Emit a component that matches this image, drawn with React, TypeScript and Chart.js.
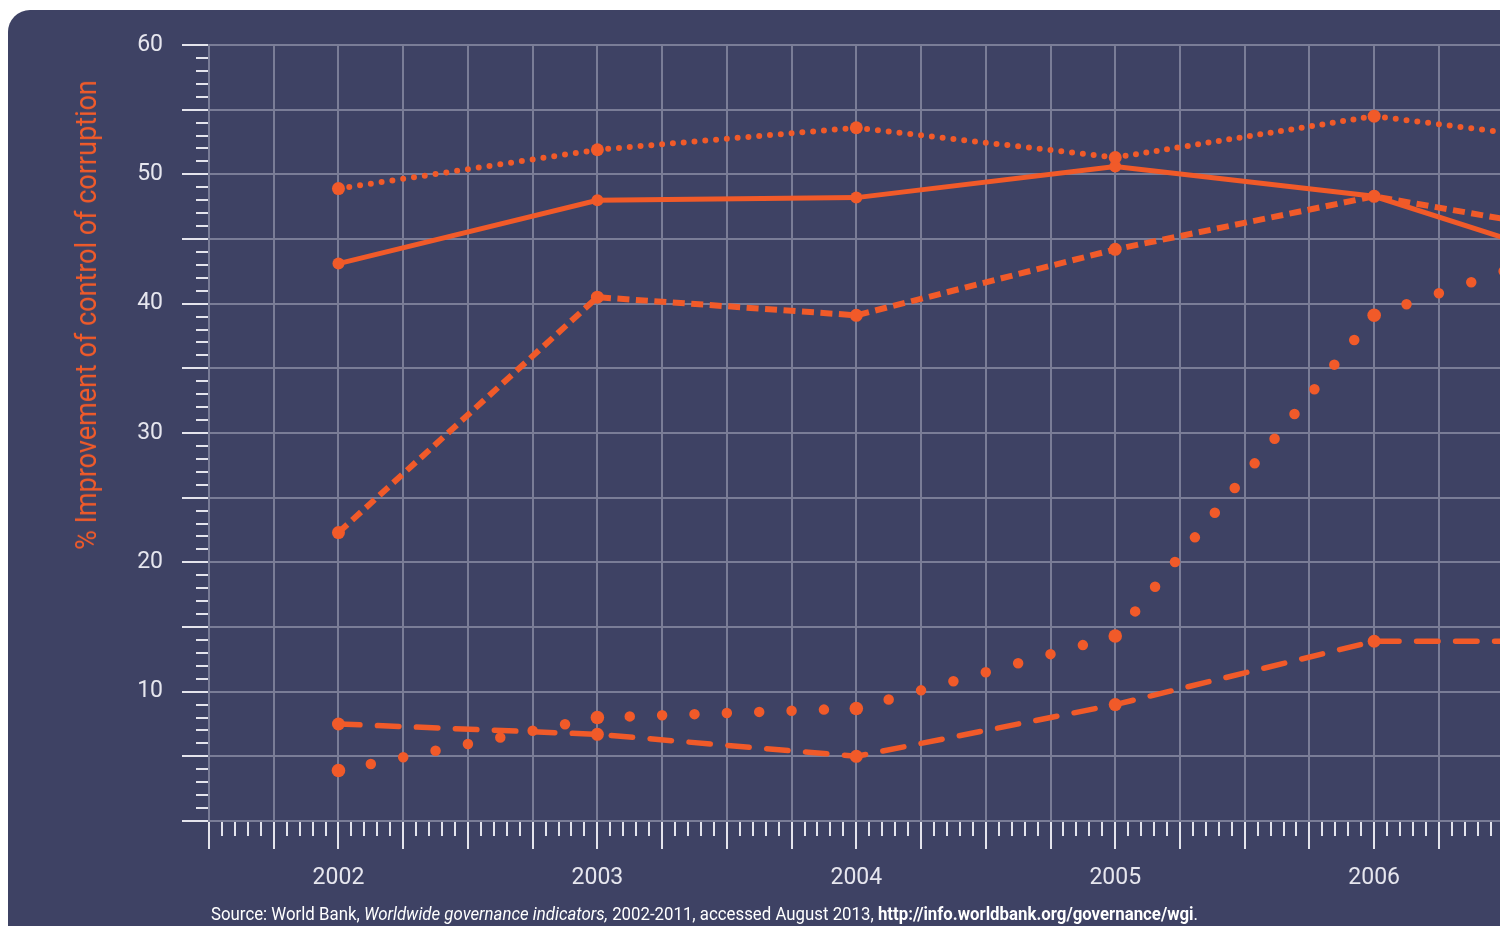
import React, { useEffect, useRef } from 'react';
import { Chart, registerables } from 'chart.js';

Chart.register(...registerables);

// ---- data ----
const years = [2002, 2003, 2004, 2005, 2006, 2007];
const seriesFineDotted = [48.9, 51.9, 53.6, 51.3, 54.5, 52.0];
const seriesSolid = [43.1, 48.0, 48.2, 50.6, 48.3, 41.9];
const seriesShortDash = [22.3, 40.5, 39.1, 44.2, 48.3, 44.8];
const seriesBigDots = [3.9, 8.0, 8.7, 14.3, 39.1, 45.9];
const seriesLongDash = [7.5, 6.7, 5.0, 9.0, 13.9, 13.9];
const yLabelValues = [10, 20, 30, 40, 50, 60];
const xLabelValues = [2002, 2003, 2004, 2005, 2006];

const yTitle = '% Improvement of control of corruption';

const FONT = '"Liberation Sans Narrow", "Arial Narrow", "Roboto", "Liberation Sans", sans-serif';
const ORANGE = '#f15a29';
const BG = '#3e4264';
const GRID = '#7a7d97';
const TICK = '#e4e4ec';
const LABEL = '#e6e6ee';

const isQuarter = (v: number) => Math.abs(v * 4 - Math.round(v * 4)) < 1e-6;
const near = (v: number, list: number[]) => list.some((l) => Math.abs(l - v) < 1e-6);

const pts = (vals: number[]) => years.map((y, i) => ({ x: y, y: vals[i] }));

const dotDash = (spacing: number) => (ctx: any) => {
  const dx = ctx.p1.x - ctx.p0.x;
  const dy = ctx.p1.y - ctx.p0.y;
  const len = Math.hypot(dx, dy);
  const n = Math.max(1, Math.round(len / spacing));
  return [0, len / n - 0.001];
};

export default function App() {
  const ref = useRef<HTMLCanvasElement | null>(null);

  useEffect(() => {
    if (!ref.current) return;
    const chart = new Chart(ref.current, {
      type: 'line',
      data: {
        datasets: [
          {
            data: pts(seriesFineDotted),
            borderColor: ORANGE,
            backgroundColor: ORANGE,
            borderWidth: 6,
            borderCapStyle: 'round',
            segment: { borderDash: dotDash(10.7) },
            pointRadius: 6.5,
            pointBorderWidth: 0,
            pointBackgroundColor: ORANGE,
          },
          {
            data: pts(seriesSolid),
            borderColor: ORANGE,
            backgroundColor: ORANGE,
            borderWidth: 5,
            pointRadius: 6,
            pointBorderWidth: 0,
            pointBackgroundColor: ORANGE,
          },
          {
            data: pts(seriesShortDash),
            borderColor: ORANGE,
            backgroundColor: ORANGE,
            borderWidth: 6,
            borderDash: [12, 6.5],
            pointRadius: 6.5,
            pointBorderWidth: 0,
            pointBackgroundColor: ORANGE,
          },
          {
            data: pts(seriesBigDots),
            borderColor: ORANGE,
            backgroundColor: ORANGE,
            borderWidth: 10.5,
            borderCapStyle: 'round',
            segment: { borderDash: dotDash(32.5) },
            pointRadius: 6.8,
            pointBorderWidth: 0,
            pointBackgroundColor: ORANGE,
          },
          {
            data: pts(seriesLongDash),
            borderColor: ORANGE,
            backgroundColor: ORANGE,
            borderWidth: 5.5,
            borderCapStyle: 'round',
            borderDash: [21.5, 17.5],
            pointRadius: 6.5,
            pointBorderWidth: 0,
            pointBackgroundColor: ORANGE,
          },
        ],
      },
      options: {
        responsive: false,
        maintainAspectRatio: false,
        animation: false,
        layout: { autoPadding: false, padding: { top: 35, right: 0, left: 0, bottom: 0 } },
        plugins: { legend: { display: false }, tooltip: { enabled: false } },
        scales: {
          x: {
            type: 'linear',
            min: 2001.5,
            max: 2006.486,
            afterFit: (s: any) => {
              s.height = 105;
              s.paddingLeft = 0;
              s.paddingRight = 0;
            },
            border: { color: GRID, width: 2 },
            grid: {
              color: (c: any) => (isQuarter(c.tick.value) ? GRID : 'rgba(0,0,0,0)'),
              lineWidth: 2,
              tickLength: 28,
              tickColor: TICK,
              tickWidth: 2,
              tickBorderDash: (c: any) => (isQuarter(c.tick.value) ? [] : [14, 100]),
            },
            ticks: {
              stepSize: 0.05,
              includeBounds: false,
              autoSkip: false,
              maxRotation: 0,
              minRotation: 0,
              padding: 15,
              color: LABEL,
              font: { family: FONT, size: 23 },
              callback: (v: any) => (near(Number(v), xLabelValues) ? String(Math.round(Number(v))) : ''),
            },
          },
          y: {
            min: 0,
            max: 60,
            afterFit: (s: any) => {
              s.width = 201;
              s.paddingTop = 0;
              s.paddingBottom = 0;
            },
            border: { color: GRID, width: 2 },
            grid: {
              color: (c: any) => (Math.round(c.tick.value) % 5 === 0 ? GRID : 'rgba(0,0,0,0)'),
              lineWidth: 2,
              tickLength: 27,
              tickColor: TICK,
              tickWidth: 2,
              tickBorderDash: (c: any) => (Math.round(c.tick.value) % 5 === 0 ? [] : [0, 14, 14, 0]),
            },
            ticks: {
              stepSize: 1,
              autoSkip: false,
              padding: 19,
              color: LABEL,
              font: { family: FONT, size: 23 },
              callback: (v: any) => (near(Number(v), yLabelValues) ? String(v) : ''),
            },
          },
        },
      },
    } as any);
    return () => chart.destroy();
  }, []);

  return (
    <div
      style={{
        position: 'fixed',
        left: 8,
        top: 10,
        width: 1492,
        height: 916,
        background: BG,
        borderTopLeftRadius: 22,
        overflow: 'hidden',
      }}
    >
      <canvas ref={ref} width={1492} height={916} style={{ position: 'absolute', left: 0, top: 0, width: 1492, height: 916 }} />
      <div
        style={{
          position: 'absolute',
          left: 78,
          top: 305,
          transform: 'translate(-50%, -50%) rotate(-90deg) scaleX(0.9)',
          whiteSpace: 'nowrap',
          fontFamily: FONT,
          fontSize: 30,
          lineHeight: '34px',
          color: ORANGE,
        }}
      >
        {yTitle}
      </div>
      <div
        style={{
          position: 'absolute',
          left: 203,
          top: 895,
          whiteSpace: 'nowrap',
          fontFamily: FONT,
          fontSize: 18,
          lineHeight: '18px',
          color: '#ffffff',
          transform: 'scaleX(0.934)',
          transformOrigin: 'left center',
        }}
      >
        Source: World Bank, <i>Worldwide governance indicators,</i> 2002-2011, accessed August 2013,{' '}
        <b>http://info.worldbank.org/governance/wgi</b>.
      </div>
    </div>
  );
}
